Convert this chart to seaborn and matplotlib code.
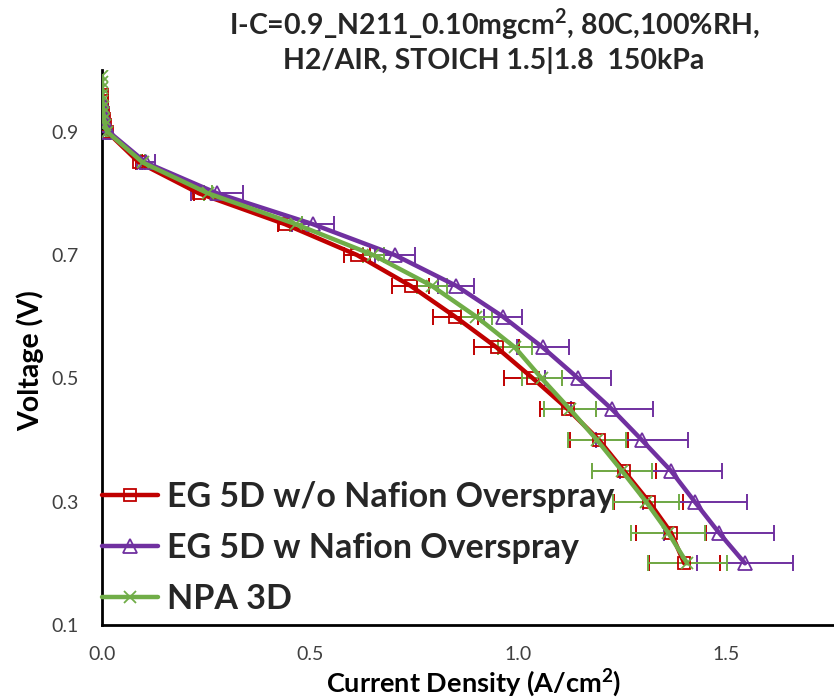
import numpy as np
import pandas as pd
import seaborn as sns
import matplotlib
matplotlib.use("Agg")
import matplotlib.pyplot as plt

# ---------------- data ----------------
labels = ["EG 5D w/o Nafion Overspray", "EG 5D w Nafion Overspray", "NPA 3D"]

red_v = [0.96, 0.95, 0.94, 0.93, 0.92, 0.91, 0.90, 0.85, 0.80, 0.75, 0.70, 0.65,
         0.60, 0.55, 0.50, 0.45, 0.40, 0.35, 0.30, 0.25, 0.20]
red_i = [0.0, 0.0, 0.001, 0.002, 0.004, 0.007, 0.012, 0.089, 0.233, 0.440, 0.613, 0.742,
         0.849, 0.949, 1.036, 1.120, 1.195, 1.255, 1.315, 1.368, 1.400]
red_err = [0, 0, 0, 0, 0, 0, 0.003, 0.008, 0.012, 0.017, 0.031, 0.045,
           0.054, 0.054, 0.070, 0.068, 0.070, 0.077, 0.083, 0.084, 0.085]

pur_v = [0.95, 0.94, 0.93, 0.92, 0.91, 0.90, 0.85, 0.80, 0.75, 0.70, 0.65,
         0.60, 0.55, 0.50, 0.45, 0.40, 0.35, 0.30, 0.25, 0.20]
pur_i = [0.0, 0.001, 0.003, 0.005, 0.009, 0.016, 0.105, 0.277, 0.507, 0.704, 0.852,
         0.964, 1.060, 1.145, 1.226, 1.298, 1.368, 1.425, 1.483, 1.546]
pur_err = [0, 0, 0, 0, 0, 0.004, 0.022, 0.062, 0.050, 0.048, 0.043,
           0.046, 0.062, 0.079, 0.099, 0.110, 0.123, 0.125, 0.132, 0.115]

grn_v = [0.99, 0.98, 0.97, 0.96, 0.95, 0.94, 0.93, 0.92, 0.91, 0.90, 0.85, 0.80, 0.75,
         0.70, 0.65, 0.60, 0.55, 0.50, 0.45, 0.40, 0.35, 0.30, 0.25, 0.20]
grn_i = [0.0, 0.0, 0.0, 0.0, 0.001, 0.002, 0.003, 0.005, 0.008, 0.012, 0.098, 0.255, 0.466,
         0.652, 0.793, 0.900, 0.993, 1.057, 1.125, 1.190, 1.250, 1.308, 1.361, 1.407]
grn_err = [0, 0, 0, 0, 0, 0, 0, 0, 0, 0.003, 0.005, 0.010, 0.015,
           0.025, 0.036, 0.038, 0.040, 0.048, 0.062, 0.070, 0.072, 0.080, 0.088, 0.095]

title_text = "I-C=0.9_N211_0.10mgcm$^{\\mathbf{2}}$, 80C,100%RH,\nH2/AIR, STOICH 1.5|1.8  150kPa"
x_ticks = [0.0, 0.5, 1.0, 1.5]
y_ticks = [0.1, 0.3, 0.5, 0.7, 0.9]

# ---------------- style ----------------
sns.set_theme(style="white")
plt.rcParams["font.family"] = ["Lato", "DejaVu Sans"]
plt.rcParams["mathtext.fontset"] = "custom"
plt.rcParams["mathtext.bf"] = "Lato:bold"
plt.rcParams["mathtext.rm"] = "Lato"

colors = ["#C00000", "#7030A0", "#70AD47"]
markers = ["s", "^", "x"]
msizes = [9, 10, 9]

fig = plt.figure(figsize=(8.34, 6.99), dpi=100)
ax = fig.add_axes([102 / 834, 74 / 699, 732 / 834, 555 / 699])

series = [(red_i, red_v, red_err), (pur_i, pur_v, pur_err), (grn_i, grn_v, grn_err)]
for (xi, yv, er), lab, c, m, ms in zip(series, labels, colors, markers, msizes):
    df = pd.DataFrame({"I": xi, "V": yv})
    ax.errorbar(xi, yv, xerr=er, fmt="none", ecolor=c, elinewidth=1.4,
                capsize=6, capthick=1.4, zorder=2)
    sns.lineplot(data=df, x="I", y="V", ax=ax, sort=False, estimator=None,
                 color=c, linewidth=3.2, marker=m, markersize=ms,
                 markerfacecolor="none", markeredgecolor=c, markeredgewidth=1.3,
                 label=lab, zorder=3)

ax.set_xlim(0, 1.76)
ax.set_ylim(0.1, 1.0)
ax.set_xticks(x_ticks)
ax.set_xticklabels([f"{t:.1f}" for t in x_ticks])
ax.set_yticks(y_ticks)
ax.set_yticklabels([f"{t:.1f}" for t in y_ticks])
ax.tick_params(axis="both", length=0, labelsize=14, labelcolor="#404040")
ax.tick_params(axis="y", pad=17)
ax.tick_params(axis="x", pad=15)

for s in ["top", "right"]:
    ax.spines[s].set_visible(False)
for s in ["left", "bottom"]:
    ax.spines[s].set_color("black")
    ax.spines[s].set_linewidth(2)

ax.set_xlabel("Current Density (A/cm$^{\\mathbf{2}}$)", fontsize=19.5, fontweight="bold",
              color="black")
ax.set_ylabel("Voltage (V)", fontsize=20.5, fontweight="bold", color="black")
ax.xaxis.label.set_va("center")
ax.yaxis.label.set_va("center")
ax.xaxis.set_label_coords(372 / 732, (625 - 683) / 555)
ax.yaxis.set_label_coords((30 - 102) / 732, (625 - 361) / 555)

fig.text(494 / 834, 1 - 40 / 699, title_text, ha="center", va="center",
         fontsize=20.5, fontweight="bold", linespacing=1.25)

leg = ax.legend(loc="center left", bbox_to_anchor=(0.0, (625 - 548) / 555),
                frameon=False, fontsize=24.5, handlelength=1.65, handletextpad=0.25,
                labelspacing=0.55, borderpad=0, borderaxespad=0)
for t in leg.get_texts():
    t.set_fontweight("bold")

fig.savefig("out.png", dpi=100)
